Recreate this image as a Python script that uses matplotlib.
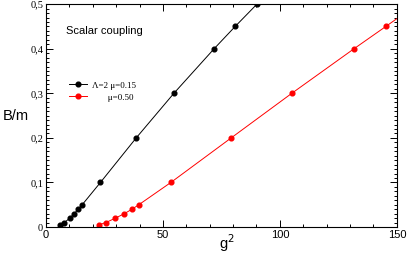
import matplotlib
matplotlib.use("Agg")
from matplotlib import pyplot as plt
from matplotlib.ticker import MultipleLocator, FuncFormatter

# Lambda=2, mu=0.15 (black)
g2_black = [6.2, 7.9, 10.2, 12.1, 13.8, 15.5, 23.3, 38.6, 54.7, 71.9, 80.9, 90.2]
bm_black = [0.005, 0.01, 0.02, 0.03, 0.04, 0.05, 0.1, 0.2, 0.3, 0.4, 0.45, 0.5]

# mu=0.50 (red)
g2_red = [22.6, 25.6, 29.7, 33.5, 36.8, 39.7, 53.4, 79.2, 105.1, 131.7, 145.3, 158.8]
bm_red = [0.005, 0.01, 0.02, 0.03, 0.04, 0.05, 0.1, 0.2, 0.3, 0.4, 0.45, 0.5]

fig = plt.figure(figsize=(4.1, 2.58), dpi=100)
ax = fig.add_axes([0.112, 0.12, 0.856, 0.864])

ax.plot(g2_black, bm_black, color="black", lw=0.7, marker="o", ms=3.4,
        label="\u039b=2 \u03bc=0.15")
ax.plot(g2_red, bm_red, color="red", lw=0.7, marker="o", ms=3.4,
        label="       \u03bc=0.50")

ax.set_xlim(0, 150)
ax.set_ylim(0, 0.5)

ax.xaxis.set_major_locator(MultipleLocator(50))
ax.xaxis.set_minor_locator(MultipleLocator(10))
ax.yaxis.set_major_locator(MultipleLocator(0.1))
ax.yaxis.set_minor_locator(MultipleLocator(0.01))
ax.tick_params(which="both", direction="in", top=True, right=True, width=0.7)
ax.tick_params(which="major", length=5)
ax.tick_params(which="minor", length=2.5)
ax.tick_params(axis="x", labelsize=8, pad=2)
ax.tick_params(axis="y", labelsize=7.5, pad=2)

ax.yaxis.set_major_formatter(FuncFormatter(
    lambda v, p: "0" if abs(v) < 1e-9 else f"{v:.1f}".replace(".", ",")))
for lbl in ax.get_yticklabels():
    lbl.set_family("Liberation Serif")
for lbl in ax.get_xticklabels():
    lbl.set_family("Liberation Sans")

for s in ax.spines.values():
    s.set_linewidth(0.8)

ax.set_ylabel("B/m", family="Liberation Sans", fontsize=10.5, rotation=0,
              va="center", ha="left")
ax.yaxis.set_label_coords(-0.122, 0.5)
ax.set_xlabel("g$^2$", family="Liberation Sans", fontsize=10.5)
ax.xaxis.set_label_coords(0.515, -0.025)

ax.text(0.058, 0.88, "Scalar coupling", transform=ax.transAxes,
        family="Liberation Sans", fontsize=8, va="center")

leg = ax.legend(loc="upper left", bbox_to_anchor=(0.055, 0.67), frameon=False,
                fontsize=6.5, handlelength=2.0, handletextpad=0.6,
                labelspacing=0.4, borderaxespad=0)
for t in leg.get_texts():
    t.set_family("Liberation Serif")

fig.savefig("out.png", dpi=100)
